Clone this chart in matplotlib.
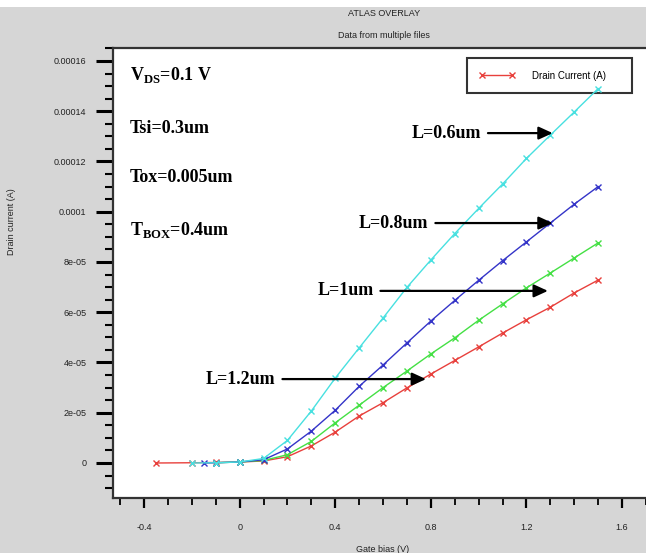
import matplotlib
matplotlib.use("Agg")
import matplotlib.pyplot as plt
from matplotlib.patches import Rectangle
from matplotlib.ticker import MultipleLocator, FixedLocator, FixedFormatter

plt.rcParams['mathtext.fontset'] = 'custom'
plt.rcParams['mathtext.rm'] = 'Liberation Serif:bold'
plt.rcParams['mathtext.bf'] = 'Liberation Serif:bold'

# gate bias (V) and drain current (A) per channel length
vg_06 = [-0.2, -0.1, 0.0, 0.1, 0.2, 0.3, 0.4, 0.5, 0.6, 0.7, 0.8, 0.9, 1.0, 1.1, 1.2, 1.3, 1.4, 1.5]
id_06 = [0, 1e-7, 4e-7, 1.8e-6, 9.0e-6, 2.07e-5, 3.38e-5, 4.58e-5, 5.77e-5, 6.99e-5, 8.08e-5,
         9.13e-5, 1.013e-4, 1.11e-4, 1.212e-4, 1.305e-4, 1.397e-4, 1.49e-4]

vg_08 = [-0.15, -0.1, 0.0, 0.1, 0.2, 0.3, 0.4, 0.5, 0.6, 0.7, 0.8, 0.9, 1.0, 1.1, 1.2, 1.3, 1.4, 1.5]
id_08 = [0, 1e-7, 4e-7, 1.3e-6, 5.6e-6, 1.27e-5, 2.1e-5, 3.05e-5, 3.9e-5, 4.78e-5, 5.65e-5,
         6.47e-5, 7.27e-5, 8.05e-5, 8.8e-5, 9.55e-5, 1.03e-4, 1.10e-4]

vg_10 = [-0.1, 0.0, 0.1, 0.2, 0.3, 0.4, 0.5, 0.6, 0.7, 0.8, 0.9, 1.0, 1.1, 1.2, 1.3, 1.4, 1.5]
id_10 = [1e-7, 4e-7, 1.0e-6, 3.3e-6, 8.6e-6, 1.6e-5, 2.3e-5, 3.0e-5, 3.66e-5, 4.34e-5,
         4.98e-5, 5.68e-5, 6.33e-5, 6.97e-5, 7.56e-5, 8.16e-5, 8.76e-5]

vg_12 = [-0.35, -0.2, -0.1, 0.0, 0.1, 0.2, 0.3, 0.4, 0.5, 0.6, 0.7, 0.8, 0.9, 1.0, 1.1, 1.2, 1.3, 1.4, 1.5]
id_12 = [0, 1e-7, 2e-7, 4e-7, 8e-7, 2.5e-6, 6.8e-6, 1.23e-5, 1.87e-5, 2.4e-5, 2.99e-5, 3.54e-5,
         4.08e-5, 4.62e-5, 5.17e-5, 5.7e-5, 6.2e-5, 6.77e-5, 7.28e-5]

ytick_vals = [0, 2e-5, 4e-5, 6e-5, 8e-5, 1e-4, 1.2e-4, 1.4e-4, 1.6e-4]
ytick_labels = ['0', '2e-05', '4e-05', '6e-05', '8e-05', '0.0001', '0.00012', '0.00014', '0.00016']
xtick_vals = [-0.4, 0, 0.4, 0.8, 1.2, 1.6]
xtick_labels = ['-0.4', '0', '0.4', '0.8', '1.2', '1.6']

params = ['V$_{\\mathrm{DS}}$=0.1 V', 'Tsi=0.3um', 'Tox=0.005um', 'T$_{\\mathrm{BOX}}$=0.4um']
params_y = [1.544e-4, 1.333e-4, 1.138e-4, 9.27e-5]

# label, arrow tail x, arrow tip x, y
arrows = [('L=0.6um', 1.01, 1.31, 1.313e-4),
          ('L=0.8um', 0.79, 1.31, 9.55e-5),
          ('L=1um', 0.56, 1.29, 6.85e-5),
          ('L=1.2um', 0.15, 0.78, 3.34e-5)]

bg = '#d6d6d6'
fig = plt.figure(figsize=(6.46, 5.53), dpi=100, facecolor=bg)
fig.patches.append(Rectangle((0, 1 - 7 / 553), 1, 7 / 553, transform=fig.transFigure,
                             facecolor='white', edgecolor='none', zorder=-1))
ax = fig.add_axes([113 / 646, 1 - 498 / 553, 547 / 646, 450 / 553])
ax.set_facecolor('white')

ax.plot(vg_12, id_12, '-x', color='#e8403c', lw=1.0, ms=5, mew=1.0, label='Drain Current (A)')
ax.plot(vg_10, id_10, '-x', color='#44e044', lw=1.0, ms=5, mew=1.0)
ax.plot(vg_08, id_08, '-x', color='#3434c8', lw=1.0, ms=5, mew=1.0)
ax.plot(vg_06, id_06, '-x', color='#48e0e0', lw=1.0, ms=5, mew=1.0)

ax.set_xlim(-0.53, 1.759)
ax.set_ylim(-1.393e-5, 1.6517e-4)

ax.yaxis.set_major_locator(FixedLocator(ytick_vals))
ax.yaxis.set_major_formatter(FixedFormatter(ytick_labels))
ax.yaxis.set_minor_locator(MultipleLocator(5e-6))
ax.xaxis.set_major_locator(FixedLocator(xtick_vals))
ax.xaxis.set_major_formatter(FixedFormatter(xtick_labels))
ax.xaxis.set_minor_locator(MultipleLocator(0.1))

ax.tick_params(axis='y', which='major', direction='out', length=12, width=2.2, pad=7,
               labelsize=6.5, labelcolor='#222222')
ax.tick_params(axis='y', which='minor', direction='out', length=6, width=1.5)
ax.tick_params(axis='x', which='major', direction='out', length=7, width=1.6, pad=11,
               labelsize=6.5, labelcolor='#222222')
ax.tick_params(axis='x', which='minor', direction='out', length=5, width=1.3)
for lbl in ax.get_xticklabels() + ax.get_yticklabels():
    lbl.set_fontfamily('Liberation Sans')

for side in ['left', 'top', 'bottom']:
    ax.spines[side].set_color('#333333')
    ax.spines[side].set_linewidth(1.6)
ax.spines['right'].set_visible(False)

for txt, yv in zip(params, params_y):
    ax.text(-0.459, yv, txt, fontsize=13, fontfamily='Liberation Serif', fontweight='bold',
            va='center', ha='left')

for lab, x0, x1, yv in arrows:
    ax.annotate(lab, xy=(x1, yv), xytext=(x0, yv), ha='right', va='center',
                fontsize=13, fontfamily='Liberation Serif', fontweight='bold',
                arrowprops=dict(arrowstyle='-|>,head_length=0.7,head_width=0.32',
                                color='black', lw=1.6, mutation_scale=12, shrinkA=3, shrinkB=0))

leg = ax.legend(loc='upper left', bbox_to_anchor=(0.647, 0.978), borderaxespad=0,
                fancybox=False, framealpha=1, edgecolor='#333333', handlelength=3.6,
                handletextpad=1.8, borderpad=1.3, numpoints=2,
                prop={'family': 'Liberation Sans', 'size': 7})
leg.get_frame().set_linewidth(1.5)
leg.set_zorder(1)
for t in leg.get_texts():
    t.set_text('Drain Current (A)     ')

fig.text(384 / 646, 1 - 14 / 553, 'ATLAS OVERLAY', ha='center', va='center',
         fontsize=6.5, fontfamily='Liberation Sans', color='#222222')
fig.text(384 / 646, 1 - 36 / 553, 'Data from multiple files', ha='center', va='center',
         fontsize=6.5, fontfamily='Liberation Sans', color='#222222')
fig.text(12 / 646, 1 - 222 / 553, 'Drain current (A)', rotation=90, ha='center', va='center',
         fontsize=6.5, fontfamily='Liberation Sans', color='#222222')
fig.text(383 / 646, 1 - 549 / 553, 'Gate bias (V)', ha='center', va='center',
         fontsize=6.5, fontfamily='Liberation Sans', color='#222222')

fig.savefig('out.png', dpi=100, facecolor=bg)
